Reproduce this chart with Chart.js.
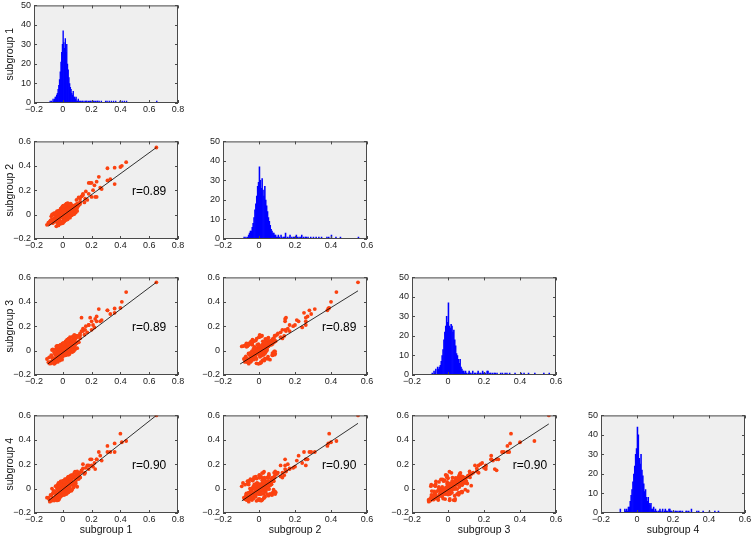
<!DOCTYPE html>
<html>
<head>
<meta charset="utf-8">
<script src="https://cdn.jsdelivr.net/npm/chart.js@4.4.1/dist/chart.umd.min.js"></script>
<style>
  body { margin: 0; background: #fff; width: 751px; height: 541px; position: relative; overflow: hidden; }
  canvas { position: absolute; }
</style>
</head>
<body>
<script>
const subgroups = ["subgroup 1", "subgroup 2", "subgroup 3", "subgroup 4"];

// one value per sample and subgroup: tight core, wider core, then the tail along the diagonal
const sg1 = [
  -0.02, 0.01, 0.03, -0.01, 0.00, 0.02, -0.03, 0.04, 0.01, -0.005,
  0.015, -0.015, 0.05, 0.025, -0.04, 0.00, 0.035, -0.025, 0.06, 0.005,
  -0.05, 0.02, 0.045, -0.01, 0.03, -0.035, 0.07, 0.01, -0.02, 0.055,
  0.00, -0.06, 0.025, 0.08, -0.045, 0.015, 0.04, -0.005, 0.065, -0.03,
  0.035, -0.07, 0.005, 0.05, -0.015, 0.09, 0.02, -0.055, 0.03, 0.045,
  -0.08, 0.01, 0.075, -0.025, 0.06, -0.01, 0.10, 0.00, -0.04, 0.025,
  0.055, -0.065, 0.015, 0.085, -0.035, 0.04, -0.09, 0.07, 0.005, -0.02,
  0.11, -0.05, 0.03, -0.075, 0.065, 0.02, -0.11, 0.045, -0.01, 0.095,
  -0.03, 0.08, -0.06, 0.035, 0.12, -0.045, 0.01, 0.055, -0.085, 0.025,
  0.07, -0.015, 0.05, -0.1, 0.09, 0.00, -0.055, 0.105, 0.04, -0.025,
  0.015, 0.06, -0.07, 0.03, -0.005, 0.075, -0.04, 0.02, 0.11, -0.095,
  0.045, -0.02, 0.085, -0.06, 0.005, 0.035, -0.03, 0.065, 0.01, -0.01,
  0.00, 0.02, -0.02, 0.04, -0.04, 0.01, 0.03, -0.01, 0.05, -0.03,
  0.015, -0.015, 0.035, -0.035, 0.06, -0.05, 0.025, -0.025, 0.00, 0.045,
  -0.06, 0.07, 0.005, -0.005, 0.02, -0.02, 0.08, -0.07, 0.04, 0.01,
  0.03, -0.045, 0.055, 0.00, -0.01, 0.065, -0.03, 0.02, 0.09, -0.08,
  0.01, 0.04, -0.02, 0.025, -0.04, 0.05, 0.00, 0.075, -0.055, 0.015,
  -0.015, 0.035, 0.06, -0.035, 0.005, 0.085, -0.06, 0.03, -0.005, 0.045,
  0.02, -0.025, 0.07, -0.01, 0.04, -0.045, 0.10, 0.00, 0.055, -0.075,
  0.035, -0.02, 0.01, 0.065, -0.03, 0.025, 0.08, -0.05, 0.045, 0.005,
  0.65, 0.44, 0.40, 0.36, 0.31, 0.33, 0.36, 0.31, 0.25, 0.235,
  0.19, 0.18, 0.20, 0.21, 0.235, 0.20, 0.225, 0.18, 0.14, 0.13,
  0.155, 0.12, 0.095, 0.41, 0.27, 0.16, 0.15, 0.11, 0.17, 0.13,
  0.10, 0.12, 0.26, 0.22, 0.14
];
const sg2 = [
  0.003, -0.002, -0.005, 0.007, 0.035, -0.003, -0.016, 0.009, 0.039, -0.019,
  -0.007, 0.012, 0.053, -0.014, -0.039, 0.03, 0.015, -0.001, 0.021, 0.009,
  -0.028, -0.013, 0.063, 0.027, 0.016, -0.05, 0.035, 0.049, -0.022, 0.057,
  -0.025, -0.031, 0.051, 0.053, -0.028, -0.022, 0.039, 0.021, 0.035, 0.005,
  0.04, -0.07, -0.026, 0.063, 0.017, 0.052, 0.052, -0.042, 0.011, 0.018,
  -0.048, 0.044, 0.054, -0.041, 0.076, -0.004, 0.055, -0.025, -0.019, 0.051,
  0.032, -0.045, 0.033, 0.042, 0.005, 0.029, -0.057, 0.07, -0.031, 0.008,
  0.074, -0.058, 0.056, -0.039, 0.045, -0.013, -0.084, 0.053, 0.012, 0.056,
  0.005, 0.048, -0.046, 0.04, 0.087, -0.018, -0.027, 0.037, -0.047, 0.056,
  0.03, 0.002, 0.023, -0.065, 0.082, 0.025, -0.057, 0.069, 0.069, -0.026,
  0.038, 0.026, -0.045, -0.01, 0.026, 0.074, -0.014, 0.002, 0.084, -0.076,
  0.028, 0.013, 0.052, -0.046, -0.021, 0.045, 0.01, 0.025, 0.029, -0.024,
  0.05, -0.044, 0.029, -0.018, 0.028, -0.037, 0.089, -0.063, 0.0, 0.031,
  -0.038, 0.048, -0.037, 0.022, 0.003, 0.0, 0.075, -0.08, 0.07, -0.014,
  -0.003, 0.001, -0.056, 0.061, -0.034, 0.034, 0.024, 0.004, 0.082, -0.057,
  -0.036, 0.019, 0.089, -0.07, 0.052, 0.002, -0.069, 0.081, 0.017, -0.014,
  0.073, -0.013, -0.066, 0.08, 0.013, -0.025, 0.055, 0.02, 0.006, -0.048,
  -0.057, 0.093, -0.007, -0.078, 0.074, 0.028, 0.012, -0.041, -0.064, 0.081,
  0.076, 0.03, 0.011, -0.073, 0.087, -0.096, 0.03, 0.045, 0.084, 0.0,
  -0.027, -0.066, 0.068, 0.012, -0.089, 0.09, 0.004, 0.01, -0.014, 0.069,
  0.55, 0.43, 0.39, 0.385, 0.38, 0.29, 0.25, 0.28, 0.31, 0.27,
  0.26, 0.26, 0.26, 0.20, 0.145, 0.145, 0.145, 0.17, 0.17, 0.15,
  0.13, 0.105, 0.12, 0.40, 0.21, 0.19, 0.10, 0.14, 0.12, 0.15,
  0.09, 0.13, 0.22, 0.24, 0.16
];
const sg3 = [
  -0.032, 0.039, 0.001, 0.002, -0.02, 0.052, -0.011, 0.004, -0.002, 0.016,
  0.018, -0.043, 0.063, 0.006, -0.004, -0.005, -0.005, -0.011, 0.076, -0.016,
  -0.033, 0.012, 0.078, -0.034, 0.006, -0.04, 0.095, 0.034, -0.047, 0.062,
  0.03, -0.071, 0.046, 0.073, -0.073, 0.023, 0.019, 0.026, 0.075, -0.051,
  0.01, -0.075, 0.009, 0.078, -0.038, 0.107, 0.037, -0.077, 0.016, 0.048,
  -0.038, 0.024, 0.039, -0.051, 0.056, 0.017, 0.065, -0.01, 0.001, 0.041,
  0.072, -0.09, 0.023, 0.092, -0.035, 0.069, -0.107, 0.08, 0.014, -0.032,
  0.069, -0.023, 0.041, -0.054, 0.025, 0.007, -0.069, 0.068, -0.024, 0.061,
  0.01, 0.093, -0.061, -0.005, 0.122, -0.053, 0.019, 0.052, -0.092, 0.051,
  0.055, 0.022, 0.023, -0.095, 0.102, 0.005, -0.027, 0.069, 0.049, -0.051,
  0.018, 0.041, -0.075, 0.046, 0.006, 0.094, -0.069, 0.032, 0.069, -0.056,
  0.023, 0.003, 0.042, -0.016, 0.019, 0.005, -0.021, 0.035, 0.039, -0.019,
  -0.05, 0.076, -0.081, 0.082, -0.077, 0.048, 0.079, -0.068, 0.11, -0.074,
  0.057, -0.067, -0.032, 0.037, -0.002, 0.01, -0.02, 0.04, 0.05, -0.029,
  -0.108, 0.111, 0.049, -0.074, 0.076, -0.066, 0.019, 0.009, -0.023, 0.058,
  0.089, -0.081, -0.006, 0.06, 0.037, -0.013, 0.031, -0.024, 0.122, -0.104,
  -0.037, 0.097, -0.071, -0.03, 0.038, 0.0, 0.06, -0.005, -0.104, 0.057,
  0.048, 0.078, 0.003, -0.093, 0.059, 0.008, -0.098, 0.069, 0.036, 0.096,
  -0.039, -0.07, 0.116, -0.048, -0.033, 0.034, 0.02, 0.05, -0.006, 0.005,
  0.078, -0.076, 0.053, 0.002, 0.036, -0.025, 0.129, -0.095, -0.004, 0.059,
  0.56, 0.48, 0.35, 0.345, 0.33, 0.30, 0.31, 0.33, 0.34, 0.28,
  0.27, 0.21, 0.24, 0.21, 0.24, 0.17, 0.26, 0.21, 0.16, 0.16,
  0.17, 0.14, 0.11, 0.40, 0.25, 0.20, 0.13, 0.12, 0.15, 0.27,
  0.12, 0.10, 0.24, 0.19, 0.18
];
const sg4 = [
  -0.027, 0.039, 0.006, -0.004, -0.025, 0.032, 0.01, 0.004, 0.029, -0.019,
  0.033, -0.023, 0.013, 0.036, 0.001, -0.02, 0.04, -0.046, 0.081, -0.011,
  -0.063, 0.042, 0.048, -0.044, 0.021, 0, 0.045, 0.029, -0.047, 0.052,
  0.015, -0.081, 0.046, 0.103, -0.048, -0.007, 0.009, 0.036, 0.05, -0.016,
  0.005, -0.04, 0.034, 0.028, -0.003, 0.042, 0.022, -0.022, 0.006, 0.068,
  -0.058, -0.002, 0.034, -0.001, 0.081, -0.034, 0.12, 0.005, -0.049, 0.001,
  0.067, -0.02, 0.003, 0.052, -0.005, 0.039, -0.107, 0.035, 0.019, 0.013,
  0.079, -0.033, 0.046, -0.094, 0.09, 0.012, -0.074, 0.048, -0.044, 0.106,
  -0.046, 0.053, -0.021, 0.055, 0.092, -0.068, 0.019, 0.062, -0.052, -0.004,
  0.09, -0.033, 0.048, -0.075, 0.062, 0.02, -0.082, 0.079, 0.059, 0.014,
  -0.017, 0.066, -0.08, 0.046, 0.001, 0.089, -0.044, -0.003, 0.129, -0.086,
  0.063, -0.042, 0.087, -0.086, 0.034, 0.04, -0.006, 0.04, -0.002, -0.004,
  0.055, -0.024, -0.071, 0.097, -0.077, 0.068, -0.026, 0.037, -0.02, 0.026,
  -0.038, 0.058, -0.032, 0.027, 0.088, -0.085, 0.07, -0.085, 0.06, -0.014,
  -0.093, 0.106, 0.064, -0.044, 0.066, -0.066, 0.129, -0.096, -0.023, 0.053,
  0.074, -0.091, 0.109, -0.045, -0.058, 0.112, -0.094, 0.061, 0.127, -0.10,
  -0.052, 0.082, -0.056, 0.075, -0.097, 0.085, 0.06, 0.01, -0.089, 0.077,
  0.033, -0.032, -0.017, 0.032, -0.036, 0.138, -0.098, -0.031, 0.061, -0.009,
  0.076, 0.02, 0.101, -0.058, -0.028, 0.019, 0.015, -0.045, 0.094, 0.0,
  0.093, -0.066, 0.058, -0.008, 0.046, -0.045, 0.024, 0.02, -0.014, -0.051,
  0.60, 0.39, 0.45, 0.37, 0.35, 0.30, 0.30, 0.30, 0.30, 0.24,
  0.24, 0.19, 0.24, 0.18, 0.24, 0.19, 0.16, 0.16, 0.165, 0.14,
  0.13, 0.13, 0.10, 0.38, 0.23, 0.17, 0.12, 0.11, 0.19, 0.15,
  0.14, 0.09, 0.27, 0.21, 0.20
];

// histogram counts, bins of 0.005 starting at -0.1
const binStart = -0.1;
const binWidth = 0.005;
const hist1 = [
  0,0,1,0, 1,0,2,1,  2,3,3,4, 5,7,9,12,  16,21,26,30, 37,31,28,33,
  26,30,20,17, 13,10,8,7,  5,4,6,3, 3,2,3,1,  1,2,0,1, 1,0,1,1,
  0,1,0,1, 1,1,0,1,  0,1,1,0, 1,0,1,1,  0,1,0,1, 1,0,1,0,
  0,1,0,0, 0,0,0,1,  0,1,0,0, 1,0,0,1,  0,0,1,0, 0,1,0,0,
  0,0,0,1, 0,0,1,0,  0,1,0,0, 1,0,0,0,  0,0,0,0, 0,0,0,0,
  0,0,0,0, 0,0,0,0,  0,0,0,0, 0,0,0,0,  0,0,0,0, 0,0,0,0,
  0,0,0,0, 0,0,1,0
];
const hist2 = [
  0,0,0,1, 0,1,0,1,  2,3,4,4, 6,8,11,15,  18,22,27,29, 37,30,26,31,
  25,22,27,20, 17,14,11,9,  7,5,4,3, 3,2,2,1,  1,2,1,0, 2,1,0,1,
  1,3,0,1, 0,1,2,0,  1,0,1,1, 0,2,1,0,  1,0,1,2, 0,1,0,1,
  1,0,1,0, 0,1,0,0,  1,0,0,1, 0,0,1,0,  0,1,0,0, 0,0,0,1,
  0,1,0,0, 2,0,0,0,  0,1,0,0, 0,0,1,0,  0,0,0,0, 0,0,0,0,
  0,0,0,0, 0,0,0,0,  0,0,1,0, 0,0,0,0,  0,0,0,0, 0,0,0,0,
  0,0,0,0, 0,0,0,0
];
const hist3 = [
  0,0,1,0, 2,1,3,0,  4,3,4,5, 7,10,13,18,  22,25,30,27, 37,25,24,26,
  25,22,23,18, 15,11,10,8,  6,8,4,3, 2,2,1,2,  1,0,1,2, 1,1,0,2,
  0,1,1,0, 1,2,0,1,  1,0,2,1, 1,1,0,2,  2,0,1,1, 0,1,0,1,
  1,0,1,0, 0,0,1,0,  1,0,0,1, 0,1,0,0,  1,0,0,0, 0,0,1,0,
  0,0,0,0, 0,1,0,0,  1,0,0,0, 0,1,0,0,  0,0,0,0, 1,0,0,0,
  0,0,0,0, 0,0,1,0,  0,0,0,0, 1,0,0,0,  0,0,0,0, 0,0,0,0,
  0,0,0,0, 0,0,0,0
];
const hist4 = [
  0,2,0,0, 0,0,2,1,  2,1,3,3, 6,9,12,16,  20,24,30,33, 44,40,28,25,
  30,22,19,15, 11,12,8,6,  8,5,4,5, 2,2,3,1,  2,1,0,1, 1,2,1,0,
  2,0,1,2, 1,1,0,2,  2,1,1,0, 1,0,1,1,  0,1,0,1, 1,0,1,0,
  0,0,1,1, 0,1,0,0,  2,0,0,0, 0,0,1,0,  1,0,0,0, 0,1,0,0,
  0,0,0,0, 1,0,0,0,  0,0,1,0, 0,0,1,0,  0,0,0,0, 0,0,0,0,
  0,0,0,0, 0,0,0,0,  0,0,0,0, 0,0,0,0,  0,0,0,0, 0,0,0,0,
  0,0,0,0, 0,0,0,0
];

// scatter panels in order (2,1) (3,1) (3,2) (4,1) (4,2) (4,3)
const rValues = [0.89, 0.89, 0.89, 0.90, 0.90, 0.90];
const fitStart = [[-0.10, -0.094], [-0.105, -0.11], [-0.105, -0.11], [-0.10, -0.10], [-0.095, -0.10], [-0.094, -0.10]];
const fitEnd = [[0.65, 0.55], [0.65, 0.56], [0.55, 0.49], [0.65, 0.60], [0.55, 0.535], [0.56, 0.53]];

const groups = [sg1, sg2, sg3, sg4];
const hists = [hist1, hist2, hist3, hist4];

// layout of the panel boxes
const boxLeft = [34, 223, 412, 601];
const boxTop = [5, 141, 277, 415];
const BW = 144, BH = 98;
const rLabelX = [0.48, 0.35, 0.36];

Chart.defaults.font.family = "'Liberation Sans', Arial, sans-serif";
Chart.defaults.color = "#222";

const fmt = v => String(Math.round(v * 10) / 10).replace("-", "\u2212");

function framePlugin(label, labelX) {
  return {
    id: "frame",
    beforeDraw(chart) {
      const { ctx, chartArea: a } = chart;
      ctx.save();
      ctx.fillStyle = "#efefef";
      ctx.fillRect(a.left, a.top, a.width, a.height);
      ctx.restore();
    },
    afterDatasetsDraw(chart) {
      const { ctx, chartArea: a, scales: { x, y } } = chart;
      ctx.save();
      ctx.strokeStyle = "#4a4a4a";
      ctx.lineWidth = 1;
      ctx.beginPath();
      x.ticks.forEach(t => {
        const px = Math.round(x.getPixelForValue(t.value)) + 0.5;
        ctx.moveTo(px, a.bottom); ctx.lineTo(px, a.bottom - 3);
        ctx.moveTo(px, a.top); ctx.lineTo(px, a.top + 3);
      });
      y.ticks.forEach(t => {
        const py = Math.round(y.getPixelForValue(t.value)) + 0.5;
        ctx.moveTo(a.left, py); ctx.lineTo(a.left + 3, py);
        ctx.moveTo(a.right, py); ctx.lineTo(a.right - 3, py);
      });
      ctx.stroke();
      ctx.strokeRect(a.left + 0.5, a.top + 0.5, a.width - 1, a.height - 1);
      if (label) {
        ctx.fillStyle = "#000";
        ctx.font = "12px 'Liberation Sans Narrow', 'Liberation Sans', Arial";
        ctx.textAlign = "left";
        ctx.textBaseline = "middle";
        ctx.fillText(label, x.getPixelForValue(labelX), y.getPixelForValue(0.19));
      }
      ctx.restore();
    }
  };
}

let k = 0;
for (let r = 0; r < 4; r++) {
  for (let c = 0; c <= r; c++) {
    const padL = 34, padT = 8, padR = 10, padB = r === 3 ? 28 : 16;
    const cv = document.createElement("canvas");
    cv.width = padL + BW + padR;
    cv.height = padT + BH + padB;
    cv.style.left = (boxLeft[c] - padL) + "px";
    cv.style.top = (boxTop[r] - padT) + "px";
    document.body.appendChild(cv);

    const isHist = r === c;
    let datasets, label = null, labelX = 0;
    if (isHist) {
      datasets = [{
        type: "bar",
        data: hists[r].map((n, i) => ({ x: binStart + binWidth * (i + 0.5), y: n })),
        backgroundColor: "#0000ff",
        borderWidth: 0,
        barPercentage: 1,
        categoryPercentage: 1
      }];
    } else {
      datasets = [
        {
          type: "line",
          data: [fitStart[k], fitEnd[k]].map(p => ({ x: p[0], y: p[1] })),
          borderColor: "#000",
          borderWidth: 0.8,
          pointRadius: 0,
          fill: false,
          order: 0
        },
        {
          type: "scatter",
          data: groups[c].map((v, i) => ({ x: v, y: groups[r][i] })),
          backgroundColor: "#fb4210",
          borderWidth: 0,
          pointRadius: 1.9,
          order: 1
        }
      ];
      label = "r=" + rValues[k].toFixed(2);
      labelX = rLabelX[c];
      k++;
    }

    new Chart(cv, {
      type: isHist ? "bar" : "scatter",
      data: { datasets },
      options: {
        responsive: false,
        animation: false,
        events: [],
        layout: { padding: { top: padT, right: padR, left: 0, bottom: 0 } },
        plugins: { legend: { display: false }, tooltip: { enabled: false } },
        scales: {
          x: {
            type: "linear",
            min: -0.2,
            max: c === 0 ? 0.8 : 0.6,
            offset: false,
            afterFit: s => { s.height = padB; },
            grid: { display: false, drawTicks: false },
            border: { display: false },
            ticks: { stepSize: 0.2, autoSkip: false, maxRotation: 0, padding: 1, font: { size: 9 }, callback: fmt },
            title: {
              display: r === 3,
              text: subgroups[c],
              color: "#111",
              font: { size: 10.5 },
              padding: { top: 0, bottom: 5 }
            }
          },
          y: {
            min: isHist ? 0 : -0.2,
            max: isHist ? 50 : 0.6,
            afterFit: s => { s.width = padL; },
            grid: { display: false, drawTicks: false },
            border: { display: false },
            ticks: { stepSize: isHist ? 10 : 0.2, autoSkip: false, padding: 3, font: { size: 9 }, callback: fmt },
            title: {
              display: c === 0,
              text: subgroups[r],
              color: "#111",
              font: { size: 10.5 },
              padding: { top: 4, bottom: 0 }
            }
          }
        }
      },
      plugins: [framePlugin(label, labelX)]
    });
  }
}
</script>
</body>
</html>
